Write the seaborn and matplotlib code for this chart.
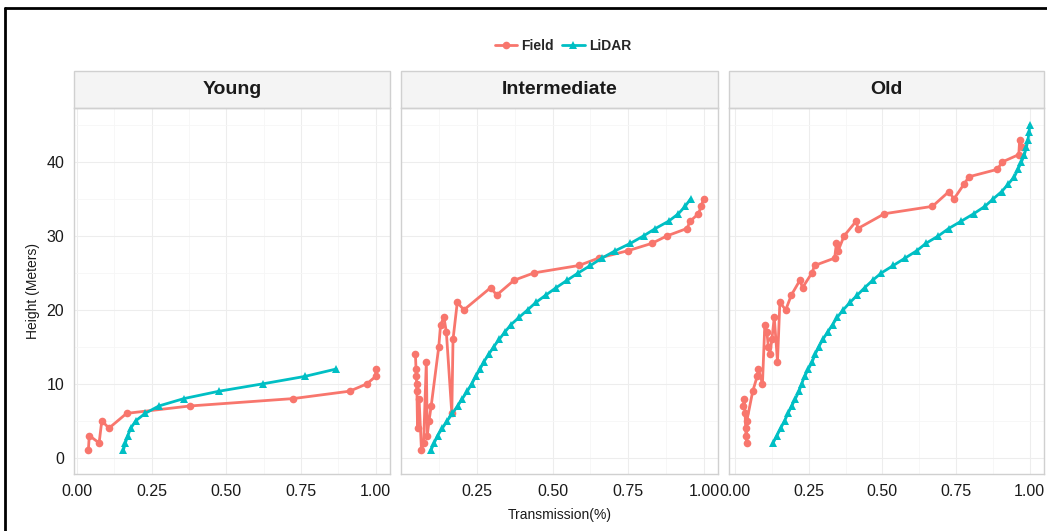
import numpy as np
import pandas as pd
import matplotlib
matplotlib.use("Agg")
import matplotlib.pyplot as plt
from matplotlib.lines import Line2D
from matplotlib.patches import Rectangle
from matplotlib.ticker import MultipleLocator
import seaborn as sns

# ---------------- data ----------------
stands = ["Young", "Intermediate", "Old"]
sources = ["Field", "LiDAR"]
colors = {"Field": "#F8766D", "LiDAR": "#00BFC4"}

young_field_t = [0.038, 0.041, 0.074, 0.083, 0.107, 0.166, 0.378, 0.724, 0.913, 0.971, 1.0, 1.0]
young_field_h = [1, 3, 2, 5, 4, 6, 7, 8, 9, 10, 11, 12]
young_lidar_t = [0.155, 0.162, 0.170, 0.180, 0.197, 0.228, 0.274, 0.358, 0.476, 0.623, 0.763, 0.868]
young_lidar_h = [1, 2, 3, 4, 5, 6, 7, 8, 9, 10, 11, 12]

inter_field_t = [0.048, 0.050, 0.051, 0.052, 0.053, 0.055, 0.060, 0.068, 0.075, 0.084, 0.087,
                 0.093, 0.100, 0.125, 0.131, 0.142, 0.150, 0.168, 0.172, 0.186, 0.208,
                 0.296, 0.316, 0.373, 0.439, 0.587, 0.652, 0.749, 0.828, 0.877, 0.943,
                 0.954, 0.981, 0.990, 0.998]
inter_field_h = [14, 12, 11, 10, 9, 4, 8, 1, 2, 13, 3,
                 5, 7, 15, 18, 19, 17, 6, 16, 21, 20,
                 23, 22, 24, 25, 26, 27, 28, 29, 30, 31,
                 32, 33, 34, 35]
inter_lidar_t = [0.099, 0.110, 0.121, 0.137, 0.153, 0.170, 0.187, 0.203, 0.219, 0.234,
                 0.247, 0.261, 0.274, 0.290, 0.306, 0.324, 0.343, 0.363, 0.390, 0.418,
                 0.445, 0.478, 0.512, 0.548, 0.585, 0.625, 0.663, 0.707, 0.757, 0.800,
                 0.839, 0.883, 0.915, 0.937, 0.955]
inter_lidar_h = list(range(1, 36))

old_field_t = [0.028, 0.031, 0.034, 0.036, 0.037, 0.039, 0.040, 0.060, 0.075, 0.079, 0.093,
               0.101, 0.108, 0.113, 0.118, 0.125, 0.133, 0.144, 0.152, 0.172, 0.191,
               0.220, 0.229, 0.261, 0.270, 0.338, 0.344, 0.350, 0.370, 0.411, 0.417,
               0.507, 0.670, 0.726, 0.743, 0.777, 0.794, 0.890, 0.907, 0.963, 0.966, 0.974]
old_field_h = [7, 8, 6, 4, 3, 2, 5, 9, 11, 12, 10,
               18, 17, 15, 14, 16, 19, 13, 21, 20, 22,
               24, 23, 25, 26, 27, 29, 28, 30, 32, 31,
               33, 34, 36, 35, 37, 38, 39, 40, 41, 43, 42]
old_lidar_t = [0.129, 0.142, 0.155, 0.168, 0.180, 0.192, 0.205, 0.217, 0.226, 0.236,
               0.249, 0.262, 0.272, 0.284, 0.298, 0.314, 0.331, 0.347, 0.367, 0.390,
               0.415, 0.440, 0.467, 0.497, 0.537, 0.577, 0.617, 0.648, 0.690, 0.725,
               0.768, 0.810, 0.848, 0.876, 0.905, 0.927, 0.948, 0.960, 0.972, 0.982,
               0.989, 0.994, 0.998, 1.0]
old_lidar_h = list(range(2, 46))

x_ticks = [0.00, 0.25, 0.50, 0.75, 1.00]
x_tick_labels = ["0.00", "0.25", "0.50", "0.75", "1.00"]
y_ticks = [0, 10, 20, 30, 40]

frames = []
for stand, (ft, fh, lt, lh) in zip(stands, [
        (young_field_t, young_field_h, young_lidar_t, young_lidar_h),
        (inter_field_t, inter_field_h, inter_lidar_t, inter_lidar_h),
        (old_field_t, old_field_h, old_lidar_t, old_lidar_h)]):
    frames.append(pd.DataFrame({"stand": stand, "source": "Field", "t": ft, "h": fh}))
    frames.append(pd.DataFrame({"stand": stand, "source": "LiDAR", "t": lt, "h": lh}))
df = pd.concat(frames, ignore_index=True)

# ---------------- figure ----------------
sns.set_style("white")
plt.rcParams["font.family"] = ["Liberation Sans", "DejaVu Sans"]

W, H = 1047, 531
fig = plt.figure(figsize=(W / 100, H / 100), dpi=100)
fig.patch.set_facecolor("white")

panel_px = [(74, 390), (401, 718), (729, 1044)]
top_px, bot_px = 108, 474
strip_top_px = 71
border_col = "#D0D0D0"

axes = []
for i, (stand, (l, r)) in enumerate(zip(stands, panel_px)):
    ax = fig.add_axes([l / W, 1 - bot_px / H, (r - l) / W, (bot_px - top_px) / H])
    axes.append(ax)
    sub = df[df["stand"] == stand]
    ax.xaxis.set_minor_locator(MultipleLocator(0.125))
    ax.yaxis.set_minor_locator(MultipleLocator(5))
    ax.grid(True, which="major", color="#EDEDED", lw=0.8)
    ax.grid(True, which="minor", color="#F6F6F6", lw=0.6)
    ax.set_axisbelow(True)
    sns.lineplot(data=sub, x="t", y="h", hue="source", style="source",
                 hue_order=sources, style_order=sources, palette=colors,
                 markers={"Field": "o", "LiDAR": "^"}, dashes=False,
                 estimator=None, sort=True, legend=False, ax=ax,
                 linewidth=2.0, markersize=5.5, markeredgewidth=0)
    tmin, tmax = sub["t"].min(), sub["t"].max()
    pad = 0.05 * (tmax - tmin)
    lo, hi = tmin - pad, tmax + pad
    ax.set_xlim(lo, hi)
    ax.set_ylim(-2.2, 47.3)
    keep = [(v, s) for v, s in zip(x_ticks, x_tick_labels) if lo <= v <= hi]
    ax.set_xticks([v for v, _ in keep])
    ax.set_xticklabels([s for _, s in keep])
    ax.set_yticks(y_ticks)
    ax.set_xlabel("")
    ax.set_ylabel("")
    for s in ax.spines.values():
        s.set_color(border_col)
        s.set_linewidth(1.0)
    ax.tick_params(axis="both", which="major", length=4, width=1, color="#999999",
                   labelsize=11.5, labelcolor="#1a1a1a", pad=3)
    ax.tick_params(axis="both", which="minor", length=0)
    if i > 0:
        ax.tick_params(axis="y", which="both", length=0, labelleft=False)
    # strip
    sh = (top_px - strip_top_px) / (bot_px - top_px)
    ax.add_patch(Rectangle((0, 1), 1, sh, transform=ax.transAxes, clip_on=False,
                           facecolor="#F4F4F4", edgecolor=border_col, lw=1.0))
    ax.text(0.5, 1 + sh / 2, stand, transform=ax.transAxes, ha="center", va="center",
            fontsize=14, fontweight="bold", color="#1a1a1a")

fig.text(33 / W, 1 - 291 / H, "Height (Meters)", rotation=90, ha="center", va="center",
         fontsize=10, color="#1a1a1a")
fig.text(560 / W, 1 - 515 / H, "Transmission(%)", ha="center", va="center",
         fontsize=10, color="#1a1a1a")

handles = [Line2D([], [], color=colors["Field"], marker="o", lw=2, markersize=5.5, markeredgewidth=0),
           Line2D([], [], color=colors["LiDAR"], marker="^", lw=2, markersize=5.5, markeredgewidth=0)]
fig.legend(handles, sources, loc="center", bbox_to_anchor=(563 / W, 1 - 46 / H), ncol=2,
           frameon=False, prop={"weight": "bold", "size": 10}, handlelength=1.6,
           handletextpad=0.3, columnspacing=0.6)

# outer frame
fig.add_artist(Line2D([5 / W, 5 / W], [0, 1 - 8 / H], color="black", lw=2, transform=fig.transFigure))
fig.add_artist(Line2D([5 / W, 1], [1 - 8 / H, 1 - 8 / H], color="black", lw=2, transform=fig.transFigure))

fig.savefig("out.png", dpi=100)
